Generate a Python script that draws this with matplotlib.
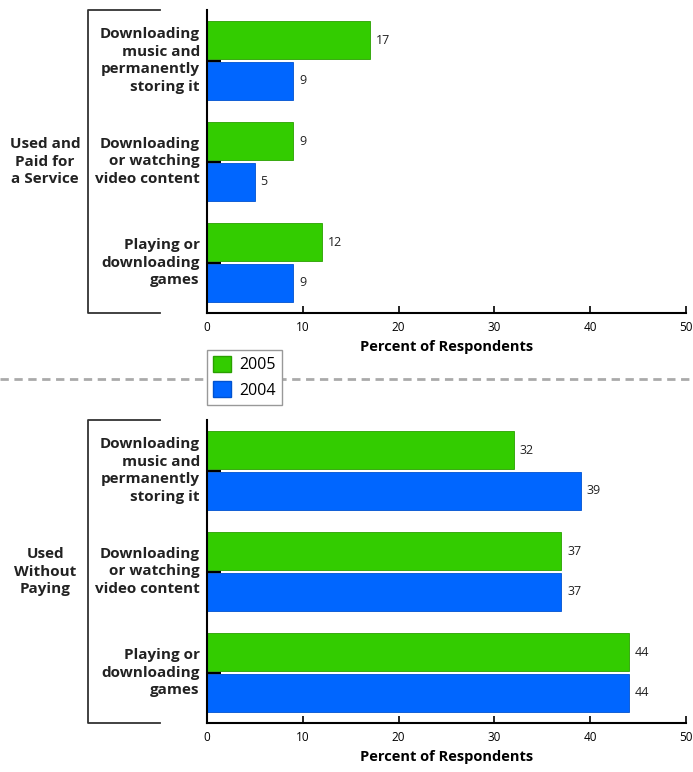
import matplotlib.pyplot as plt
from matplotlib.lines import Line2D
from matplotlib.patches import Patch

# categories and values
categories = ["Downloading\nmusic and\npermanently\nstoring it",
              "Downloading\nor watching\nvideo content",
              "Playing or\ndownloading\ngames"]
groups = ["Used and\nPaid for\na Service", "Used\nWithout\nPaying"]
paid_2005 = [17, 9, 12]
paid_2004 = [9, 5, 9]
free_2005 = [32, 37, 44]
free_2004 = [39, 37, 44]
xticks = [0, 10, 20, 30, 40, 50]

green = "#33cc00"
blue = "#0066ff"
plt.rcParams['font.family'] = ['Open Sans', 'DejaVu Sans']

fig = plt.figure(figsize=(6.93, 7.72), dpi=100)
W, H = 693, 772

def make_panel(top, vals05, vals04, group_label):
    ax = fig.add_axes([207 / W, 1 - (top + 303) / H, 479 / W, 303 / H])
    pos = range(len(categories))
    ax.barh([p - 0.2 for p in pos], vals05, height=0.375, color=green,
            edgecolor="#2aa000", linewidth=0.6)
    ax.barh([p + 0.2 for p in pos], vals04, height=0.375, color=blue,
            edgecolor="#0052d0", linewidth=0.6)
    for p, v in zip(pos, vals05):
        ax.text(v + 0.6, p - 0.2, str(v), va="center", ha="left", fontsize=9, color="#222222")
    for p, v in zip(pos, vals04):
        ax.text(v + 0.6, p + 0.2, str(v), va="center", ha="left", fontsize=9, color="#222222")
    ax.set_ylim(2.5, -0.5)
    ax.set_xlim(0, 50)
    ax.set_xticks(xticks)
    ax.set_yticks(list(pos))
    ax.set_yticklabels([])
    ax.tick_params(axis="y", direction="in", length=10, width=1.5)
    ax.tick_params(axis="x", direction="in", length=5, width=1.2, labelsize=8.5, pad=6)
    for s in ["top", "right"]:
        ax.spines[s].set_visible(False)
    for s in ["left", "bottom"]:
        ax.spines[s].set_linewidth(1.5)
    ax.set_xlabel("Percent of Respondents", fontsize=10.5, fontweight="bold", labelpad=4)
    for p, c in zip(pos, categories):
        ax.text(-0.015, p, c, transform=ax.get_yaxis_transform(), ha="right", va="center",
                fontsize=11, fontweight="bold", linespacing=1.32, color="#222222")
    # bracket
    bx, tx = -0.2484, -0.098
    ax.add_line(Line2D([tx, bx, bx, tx], [1, 1, 0, 0], transform=ax.transAxes,
                       color="#333333", linewidth=1.3, clip_on=False))
    ax.text(-0.338, 0.5, group_label, transform=ax.transAxes, ha="center", va="center",
            fontsize=11, fontweight="bold", linespacing=1.35, color="#222222")
    return ax

ax1 = make_panel(10, paid_2005, paid_2004, groups[0])
ax2 = make_panel(420, free_2005, free_2004, groups[1])

# dashed separator
fig.add_artist(Line2D([0, 1], [1 - 379 / H, 1 - 379 / H], transform=fig.transFigure,
                      color="#aaaaaa", linewidth=2, linestyle=(0, (3, 2))))

handles = [Patch(facecolor=green, edgecolor="#2aa000", label="2005"),
           Patch(facecolor=blue, edgecolor="#0052d0", label="2004")]
leg = fig.legend(handles=handles, loc="upper left", bbox_to_anchor=(207 / W, 1 - 350 / H),
                 borderaxespad=0, fancybox=False, edgecolor="#999999", fontsize=11.5,
                 handlelength=1.1, handleheight=1.1, borderpad=0.4, labelspacing=0.5,
                 handletextpad=0.5, framealpha=1)
leg.set_zorder(5)

fig.savefig("out.png", dpi=100)
